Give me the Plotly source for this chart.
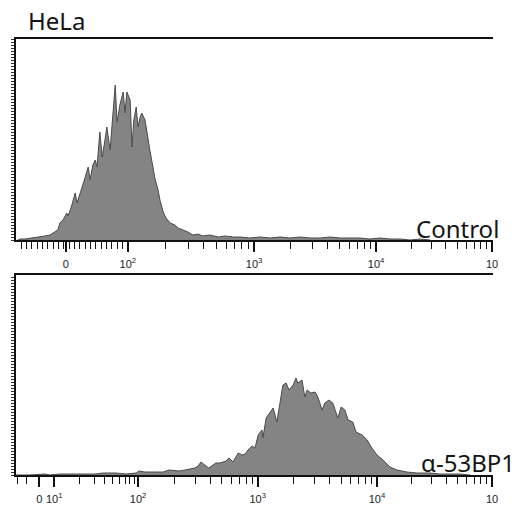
import math
import plotly.graph_objects as go

# ---- data: histogram bins (channel, count) ----
control_channel = [4, 9, 19, 36, 52, 62, 73, 84, 90, 94, 101, 109, 112, 120, 127, 131, 137, 142,
                   148, 155, 159, 165, 170, 174, 180, 185, 191, 195, 202, 208, 213, 217, 223, 230,
                   234, 238, 245, 249, 253, 258, 262, 266, 270, 277, 283, 288, 294, 298, 305, 309,
                   316, 322, 331, 337, 341, 348, 359, 369, 380, 391, 401, 416, 434, 449, 466, 481,
                   502, 524, 545, 567, 588, 610, 631, 653, 674, 696, 717, 738, 760, 781, 803, 824,
                   846, 867, 889]
control_count = [0, 1, 1, 2, 3, 4, 5, 8, 10, 17, 20, 27, 24, 35, 47, 37, 45, 53,
                 62, 73, 60, 75, 80, 73, 108, 83, 100, 113, 90, 122, 155, 118, 135, 148,
                 127, 148, 140, 93, 120, 133, 113, 122, 127, 120, 100, 88, 73, 62, 50, 40,
                 28, 22, 17, 16, 15, 12, 10, 8, 5, 6, 4, 5, 3, 4, 3, 3,
                 2, 3, 2, 3, 2, 3, 2, 2, 3, 2, 2, 2, 1, 2, 1, 1,
                 0, 1, 0]

bp1_channel = [0, 30, 62, 73, 94, 116, 137, 150, 170, 187, 202, 215, 236, 258, 264, 277, 298,
               316, 328, 341, 350, 363, 371, 384, 391, 397, 408, 414, 423, 429, 438, 444, 451,
               457, 466, 472, 477, 485, 492, 498, 507, 513, 520, 528, 530, 537, 545, 552, 560,
               567, 573, 580, 586, 595, 601, 605, 614, 620, 625, 633, 642, 648, 657, 663, 672,
               680, 691, 698, 706, 713, 723, 730, 743, 754, 764, 775, 788, 803, 818, 839, 861,
               889, 910, 932, 953, 975]
bp1_count = [0, 0, 1, 0, 1, 1, 1, 1, 1, 2, 2, 2, 1, 2, 4, 3, 3,
             3, 5, 4, 4, 5, 6, 7, 9, 13, 9, 7, 10, 12, 12, 13, 14,
             17, 13, 18, 22, 20, 21, 25, 29, 27, 40, 45, 37, 57, 62, 67, 53,
             73, 90, 92, 85, 90, 97, 92, 95, 78, 85, 82, 83, 78, 65, 72, 75,
             72, 57, 68, 65, 55, 53, 43, 40, 35, 27, 20, 15, 8, 5, 3, 2,
             2, 1, 1, 1, 0]

# decade anchor channels of each panel's display scale
top_decades = {2: 240, 3: 511, 4: 773, 5: 1022}
bot_decades = {1: 82, 2: 262, 3: 519, 4: 775, 5: 1022}
top_zero = 107
bot_zero = 50

panel_titles = ["Control", "α-53BP1"]
figure_title = "HeLa"

FILL = "#848484"
EDGE = "#4a4a4a"


def log_minor(decades):
    ks = sorted(decades)
    out = []
    for a, b in zip(ks[:-1], ks[1:]):
        ca, cb = decades[a], decades[b]
        for m in range(2, 10):
            out.append(ca + (cb - ca) * math.log10(m))
    return out


def sup(k):
    return "10<sup>%d</sup>" % k


fig = go.Figure()
fig.add_trace(go.Scatter(x=control_channel, y=control_count, mode="lines", fill="tozeroy",
                         fillcolor=FILL, line=dict(color=EDGE, width=1), xaxis="x", yaxis="y",
                         showlegend=False, hoverinfo="skip"))
fig.add_trace(go.Scatter(x=bp1_channel, y=bp1_count, mode="lines", fill="tozeroy",
                         fillcolor=FILL, line=dict(color=EDGE, width=1), xaxis="x2", yaxis="y2",
                         showlegend=False, hoverinfo="skip"))

W, H = 522, 512
xdom = [16 / W, 493 / W]
ydom_top = [1 - 240 / H, 1 - 39 / H]
ydom_bot = [1 - 475 / H, 1 - 275 / H]
XR = [0, 1024]

# top panel ticks
top_lin = [top_decades[2] - k * 11.45 for k in range(1, 21)]
top_major = [top_zero] + [top_decades[k] for k in sorted(top_decades)]
top_text = ["0"] + [sup(k) for k in sorted(top_decades)]
top_text[-1] = "10"
top_minor = top_lin + log_minor(top_decades)

bot_major = [bot_zero] + [bot_decades[k] for k in sorted(bot_decades)]
bot_text = ["0"] + [sup(k) for k in sorted(bot_decades)]
bot_text[-1] = "10"
bot_minor = [4, 22] + log_minor(bot_decades)

tickfont = dict(family="Liberation Sans, Arial, sans-serif", size=11, color="#222")

common_x = dict(range=XR, showgrid=False, zeroline=False, showline=True, linecolor="#111",
                linewidth=1.8, mirror=True, ticks="outside", ticklen=10, tickwidth=1.5,
                tickcolor="#111", tickfont=tickfont, ticklabelstandoff=3, domain=xdom,
                tickangle=0, automargin=False)
common_y = dict(showgrid=False, zeroline=False, showline=True, linecolor="#111", linewidth=1.8,
                ticks="outside", ticklen=3, tickwidth=1.2, tickcolor="#333", dtick=3,
                showticklabels=False, domain=xdom, automargin=False)

minor_style = dict(ticklen=7, ticks="outside", tickcolor="#111", tickwidth=1.4)

fig.update_layout(
    width=W, height=H, margin=dict(l=0, r=0, t=0, b=0, autoexpand=False),
    paper_bgcolor="white", plot_bgcolor="white",
    xaxis=dict(common_x, anchor="y", tickvals=top_major, ticktext=top_text,
               minor=dict(minor_style, tickvals=top_minor)),
    yaxis=dict(common_y, domain=ydom_top, range=[0, 201], anchor="x"),
    xaxis2=dict(common_x, anchor="y2", tickvals=bot_major, ticktext=bot_text,
                minor=dict(minor_style, tickvals=bot_minor)),
    yaxis2=dict(common_y, domain=ydom_bot, range=[0, 200], anchor="x2"),
    xaxis3=dict(range=XR, overlaying="x", side="top", anchor="y", showgrid=False,
                zeroline=False, showline=False, showticklabels=False, ticks="outside",
                ticklen=3, tickcolor="#111", tickvals=[364, 588], automargin=False,
                minor=dict(tickvals=[504], ticks="outside", ticklen=2, tickwidth=7,
                           tickcolor="#111")),
    xaxis4=dict(range=XR, overlaying="x2", side="top", anchor="y2", showgrid=False,
                zeroline=False, showline=False, showticklabels=False, ticks="outside",
                ticklen=3, tickcolor="#111", tickvals=[331, 552, 668], automargin=False,
                minor=dict(tickvals=[468], ticks="outside", ticklen=2, tickwidth=7,
                           tickcolor="#111")),
)

txtfont = dict(family="Noto Sans, sans-serif", size=24, color="#151515")
fig.add_annotation(text=figure_title, xref="paper", yref="paper", x=26 / W, y=1 - 20 / H,
                   xanchor="left", yanchor="middle", showarrow=False, font=txtfont)
fig.add_annotation(text=panel_titles[0], xref="paper", yref="paper", x=501 / W, y=1 - 228 / H,
                   xanchor="right", yanchor="middle", showarrow=False, font=txtfont)
fig.add_annotation(text=panel_titles[1], xref="paper", yref="paper", x=517 / W, y=1 - 462 / H,
                   xanchor="right", yanchor="middle", showarrow=False, font=txtfont)

fig.write_html("out.html")
